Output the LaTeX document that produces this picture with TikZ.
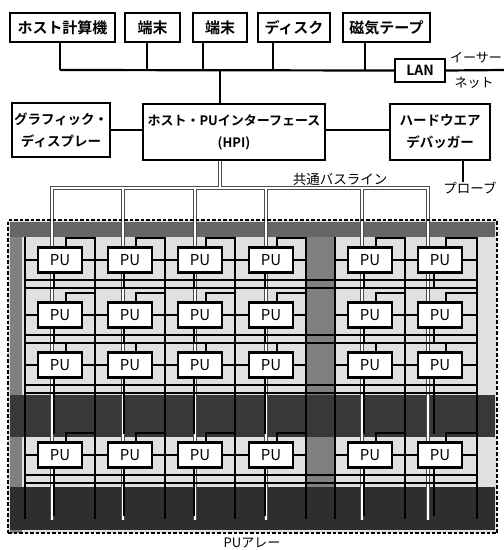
\documentclass[tikz,border=0pt]{standalone}
\usepackage{fontspec}
\setmainfont{Noto Sans CJK JP}[BoldFont={Noto Sans CJK JP Bold}]
\begin{document}
\begin{tikzpicture}[x=1pt,y=-1pt,
  box/.style={draw, line width=2.4pt, inner sep=0pt, align=center},
  toptext/.style={font=\bfseries\fontsize{15}{17}\selectfont},
  midtext/.style={font=\bfseries\fontsize{13.5}{22}\selectfont},
  link/.style={line width=2.2pt},
  mesh/.style={line width=2.4pt, line cap=rect},
  pu/.style={draw, line width=2.2pt, fill=white, minimum width=44pt, minimum height=25pt, inner sep=0pt, font=\fontsize{15}{15}\selectfont},
  lbl/.style={font=\fontsize{13.5}{15}\selectfont, inner sep=0pt},
  busout/.style={line width=4pt, black!70},
  busin/.style={line width=2.2pt, white},
]
\useasboundingbox (0,0) rectangle (504,550);

% ---------- top row ----------
\node[box, toptext, minimum width=105pt, minimum height=29pt] (host)  at (62.5,27.5) {ホスト計算機};
\node[box, toptext, minimum width=55pt,  minimum height=29pt] (term1) at (152.5,27.5) {端末};
\node[box, toptext, minimum width=54pt,  minimum height=29pt] (term2) at (220,27.5) {端末};
\node[box, toptext, minimum width=72pt,  minimum height=29pt] (disk)  at (294,27.5) {ディスク};
\node[box, toptext, minimum width=87pt,  minimum height=29pt] (tape)  at (386.5,27.5) {磁気テープ};
\node[box, minimum width=50pt, minimum height=23pt, font=\bfseries\fontsize{14}{14}\selectfont] (lan) at (420,70.5) {LAN};
\node[lbl, font=\fontsize{13}{14}\selectfont] (eth1) at (476,58) {イーサー};
\node[lbl, font=\fontsize{13}{14}\selectfont] (eth2) at (474,83) {ネット};

\coordinate (busL) at (60,70);
\coordinate (ethR) at (504,70);
\draw[link] (busL) -- (lan.west);
\draw[link] (lan.east) -- (ethR);
\draw[link] ([xshift=-2.5pt]host.south)  -- ([xshift=-2.5pt]host.south |- busL);
\draw[link] ([xshift=-5.5pt]term1.south) -- ([xshift=-5.5pt]term1.south |- busL);
\draw[link] ([xshift=-17pt]term2.south)  -- ([xshift=-17pt]term2.south |- busL);
\draw[link] ([xshift=-21pt]disk.south)   -- ([xshift=-21pt]disk.south |- busL);
\draw[link] ([xshift=-21.5pt]tape.south) -- ([xshift=-21.5pt]tape.south |- busL);

% ---------- second row ----------
\node[box, midtext, minimum width=98pt,  minimum height=54pt] (gfx) at (61,130) {グラフィック・\\ディスプレー};
\node[box, font=\bfseries\fontsize{13}{22}\selectfont, minimum width=182pt, minimum height=56pt] (hpi) at (234,132) {ホスト・PUインターフェース\\(HPI)};
\node[box, midtext, minimum width=100pt, minimum height=56pt] (dbg) at (440,132) {ハードウエア\\デバッガー};
\draw[link] ([xshift=-14pt]hpi.north) -- ([xshift=-14pt]hpi.north |- busL);
\draw[link] (gfx.east) -- (gfx.east -| hpi.west);
\draw[link] (hpi.east |- gfx.east) -- (gfx.east -| dbg.west);
\node[lbl] (probe) at (470,188) {プローブ};
\draw[link] ([xshift=23pt]dbg.south) -- ([xshift=23pt]dbg.south |- probe.north);
\node[lbl] (buslbl) at (340,179) {共通バスライン};

% ---------- PU array background ----------
\fill[black!12] (8,220) rectangle (497,533);
\fill[black!60] (10,222) rectangle (495,237);
\fill[black!50] (10,237) rectangle (22,533);
\fill[black!50] (307,237) rectangle (334,487);
\fill[black!78] (10,395) rectangle (495,437);
\fill[black!82] (10,487) rectangle (495,530);

% ---------- common bus (double line) ----------
\coordinate (bus1) at (52,188);
\coordinate (bus2) at (123,188);
\coordinate (bus3) at (195,188);
\coordinate (bus4) at (266,188);
\coordinate (bus5) at (362,188);
\coordinate (bus6) at (428,188);
\foreach \s in {busout,busin}{
  \draw[\s] ([xshift=-14pt]hpi.south) -- ([xshift=-14pt]hpi.south |- bus1);
  \draw[\s, line join=miter] (52,520) -- (bus1) -- (bus6) -- (428,520);
  \foreach \b/\x in {bus2/123,bus3/195,bus4/266,bus5/362}
    \draw[\s] (\b) -- (\x,520);
}

% ---------- mesh ----------
\foreach \x in {25,95,165,235,306,335,405,477}
  \draw[mesh] (\x,238) -- (\x,518);
\foreach \r in {260,315,365,455}{
  \draw[mesh] (25,\r+20) -- (477,\r+20);
  \draw[mesh] (25,\r+28) -- (477,\r+28);
}
\foreach \c in {60,130,200,271,370,440}{
  \foreach \r in {260,315,365,455}{
    \draw[mesh] (\c-35,\r) -- (\c+35,\r);
    \draw[mesh] (\c+6,\r-22) -- (\c+6,\r);
    \draw[mesh] (\c+6,\r-22) -- (\c+35,\r-22);
    \draw[mesh] (\c-6,\r) -- (\c-6,\r+28);
  }
  \draw[mesh] (\c-6,393) -- (\c-6,433);
  \draw[mesh] (\c-6,483) -- (\c-6,515);
}

% ---------- PUs ----------
\foreach \c [count=\i] in {60,130,200,271,370,440}
  \foreach \r [count=\j] in {260,315,365,455}
    \node[pu] (pu\i\j) at (\c,\r) {PU};

% ---------- array frame ----------
\node[draw, line width=2.8pt, dash pattern=on 3.5pt off 2pt, minimum width=489pt, minimum height=313pt, inner sep=0pt] (array) at (252.5,376.5) {};
\node[lbl, font=\fontsize{13}{14}\selectfont] (arrlbl) at (252,543) {PUアレー};
\end{tikzpicture}
\end{document}
